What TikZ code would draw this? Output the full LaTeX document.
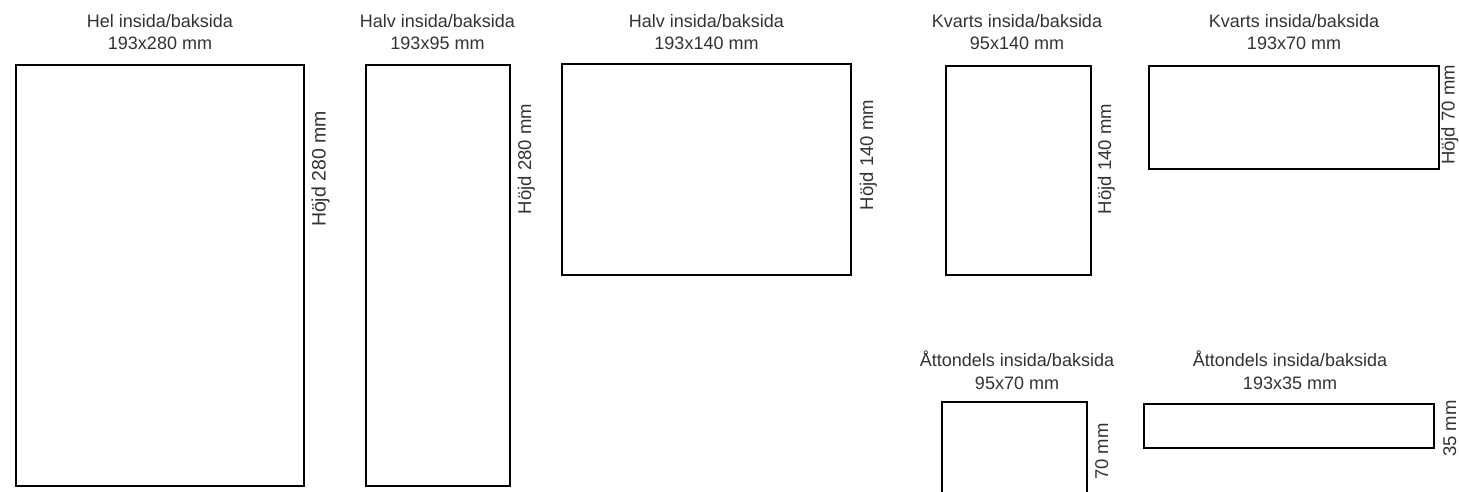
\documentclass[tikz,border=0pt]{standalone}
\usepackage{fontspec}
\setmainfont{Liberation Sans}
\begin{document}
\begin{tikzpicture}[x=1pt,y=-1pt,
  frame/.style={line width=2pt,draw=black},
  ttl/.style={inner sep=0pt,align=center,anchor=south,text=black!80,font=\fontsize{18}{22.5}\selectfont},
  hlab/.style={inner sep=0pt,rotate=90,anchor=base,text=black!80,font=\fontsize{18.5}{22}\selectfont}]
\useasboundingbox (0,0) rectangle (1459,491);
\clip (0,0) rectangle (1459,491);
\fill[white] (0,0) rectangle (1459,491);
% boxes
\draw[frame] (16,64.5) rectangle (304,485.5);
\draw[frame] (365.5,65) rectangle (510,485.5);
\draw[frame] (562,63.5) rectangle (851,275);
\draw[frame] (946,66) rectangle (1091,275);
\draw[frame] (1149,66) rectangle (1439,169);
\draw[frame] (942,402) rectangle (1087,512);
\draw[frame] (1144,404) rectangle (1434,448);
% titles
\node[ttl] (t1) at (160,50.3) {Hel insida/baksida\\193x280 mm};
\node[ttl] (t2) at (437.5,50.3) {Halv insida/baksida\\193x95 mm};
\node[ttl] (t3) at (706.5,50.3) {Halv insida/baksida\\193x140 mm};
\node[ttl] (t4) at (1017,50.3) {Kvarts insida/baksida\\95x140 mm};
\node[ttl] (t5) at (1294,50.3) {Kvarts insida/baksida\\193x70 mm};
\node[ttl] (t6) at (1017,389.5) {Åttondels insida/baksida\\95x70 mm};
\node[ttl] (t7) at (1290,389.5) {Åttondels insida/baksida\\193x35 mm};
% height labels
\node[hlab,font=\fontsize{19.5}{22}\selectfont] (h1) at (325.5,169) {Höjd 280 mm};
\node[hlab] (h2) at (531,159) {Höjd 280 mm};
\node[hlab] (h3) at (873,155) {Höjd 140 mm};
\node[hlab] (h4) at (1111,159) {Höjd 140 mm};
\node[hlab] (h5) at (1454.5,115) {Höjd 70 mm};
\node[hlab] (h6) at (1108,451.5) {70 mm};
\node[hlab] (h7) at (1456,428.5) {35 mm};
\end{tikzpicture}
\end{document}
